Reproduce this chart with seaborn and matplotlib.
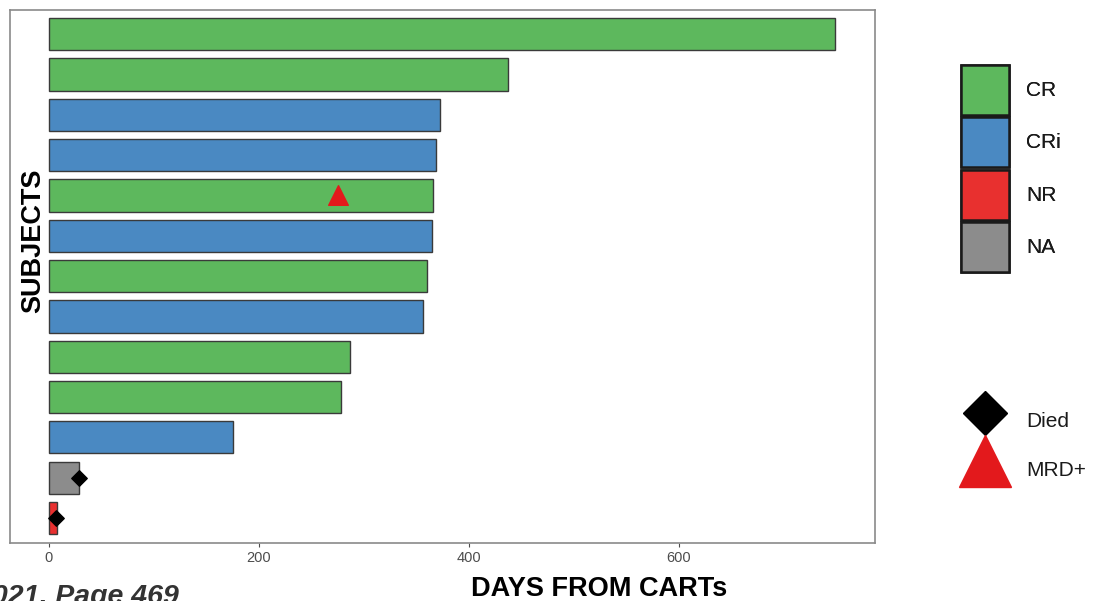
import matplotlib
matplotlib.use("Agg")
import matplotlib.pyplot as plt
from matplotlib.patches import Patch
from matplotlib.lines import Line2D
import seaborn as sns
import pandas as pd

# Swimmer data: one bar per subject, days of follow-up after CAR-T infusion
subjects = [f"S{i}" for i in range(1, 14)]
days = [749, 437, 373, 369, 366, 365, 360, 356, 287, 278, 175, 29, 8]
response = ["CR", "CR", "CRi", "CRi", "CR", "CRi", "CR", "CRi",
            "CR", "CR", "CRi", "NA", "NR"]

# Event markers
died_subjects = ["S12", "S13"]
died_days = [29, 7]
mrd_subjects = ["S5"]
mrd_days = [275]

categories = ["CR", "CRi", "NR", "NA"]
colors = {"CR": "#5DB85D", "CRi": "#4A89C2", "NR": "#E8302F", "NA": "#8C8C8C"}

df = pd.DataFrame({"subject": subjects, "days": days, "response": response})

sns.set_style("white")
plt.rcParams["font.family"] = ["Liberation Sans", "DejaVu Sans"]

fig = plt.figure(figsize=(11.05, 6.01), dpi=100)
ax = fig.add_axes([10 / 1105, 1 - 543 / 601, 865 / 1105, 533 / 601])

sns.barplot(data=df, x="days", y="subject", hue="response", order=subjects,
            hue_order=categories, palette=colors, dodge=False, width=0.8,
            saturation=1, edgecolor="#3a3a3a", linewidth=1.0, legend=False,
            ax=ax)

ypos = {s: i for i, s in enumerate(subjects)}
ax.scatter(died_days, [ypos[s] for s in died_subjects], marker="D", s=62,
           color="black", zorder=5)
ax.scatter(mrd_days, [ypos[s] for s in mrd_subjects], marker="^", s=200,
           color="#E3191C", zorder=5)

ax.set_xlim(-37, 787)
ax.set_ylim(12.62, -0.6)
ax.set_xticks([0, 200, 400, 600])
ax.tick_params(axis="x", colors="#4d4d4d", labelsize=10.5, length=3,
               width=0.8, pad=3, bottom=True)
ax.tick_params(axis="y", left=False, labelleft=False)
ax.set_xlabel("")
ax.set_ylabel("")
for sp in ax.spines.values():
    sp.set_color("#8a8a8a")
    sp.set_linewidth(1.2)

fig.text(33 / 1105, 1 - 241 / 601, "SUBJECTS", rotation=90, ha="center",
         va="center", fontsize=19.5, fontweight="bold", color="black")
fig.text(599 / 1105, 1 - 589 / 601, "DAYS FROM CARTs", ha="center",
         va="center", fontsize=19.5, fontweight="bold", color="black")
fig.text(-0.021, 1 - 604 / 601, "2021, Page 469", ha="left", va="baseline",
         fontsize=20.5, fontweight="bold", fontstyle="italic", color="#333333")

# Response legend
resp_handles = [Patch(facecolor=colors[c], edgecolor="#1a1a1a", linewidth=1.8,
                      label=c) for c in categories]
leg1 = fig.legend(handles=resp_handles, loc="upper left",
                  bbox_to_anchor=(957 / 1105, 1 - 61 / 601), frameon=False,
                  fontsize=15, handlelength=2.3, handleheight=3.3,
                  labelspacing=0.12, handletextpad=0.8, borderaxespad=0,
                  borderpad=0.2)
for t in leg1.get_texts():
    t.set_color("#1a1a1a")

# Event legend
evt_handles = [
    Line2D([], [], linestyle="none", marker="D", markersize=22,
           color="black", label="Died"),
    Line2D([], [], linestyle="none", marker="^", markersize=38,
           color="#E3191C", label="MRD+"),
]
leg2 = fig.legend(handles=evt_handles, loc="upper left",
                  bbox_to_anchor=(957 / 1105, 1 - 394 / 601), frameon=False,
                  fontsize=15, handlelength=2.3, handleheight=3.0,
                  labelspacing=0.15, handletextpad=0.8, borderaxespad=0,
                  borderpad=0.2)
for t in leg2.get_texts():
    t.set_color("#1a1a1a")
fig.add_artist(leg1)

fig.savefig("out.png", dpi=100)
